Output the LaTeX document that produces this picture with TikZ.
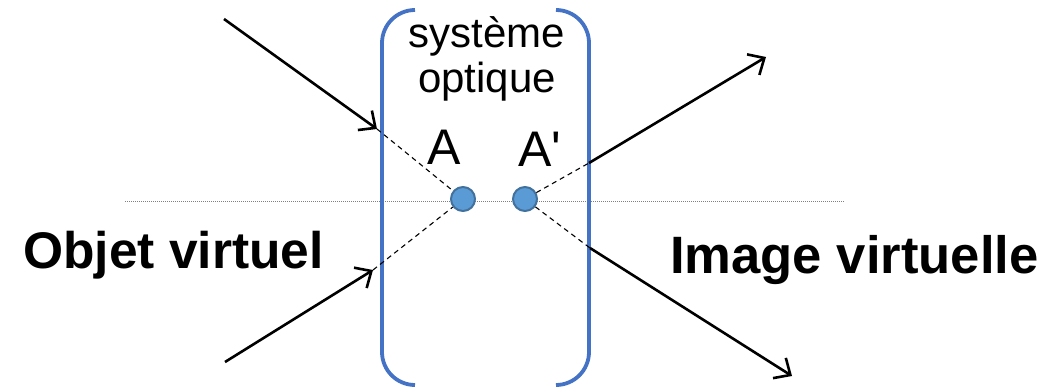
\documentclass[tikz,border=0pt]{standalone}
\usepackage{fontspec}
\setmainfont{Liberation Sans}
% same family without TeX ligature mapping, so that ' stays straight
\newfontfamily\plainsans{Liberation Sans}
\usetikzlibrary{arrows.meta}
\definecolor{bracketblue}{HTML}{4472C4}
\definecolor{dotfill}{HTML}{5B9BD5}
\definecolor{dotline}{HTML}{41719C}
\begin{document}
\begin{tikzpicture}[x=1pt,y=-1pt,
  ray/.style={line width=2.6pt,-{Straight Barb[length=13pt,width=24pt,line width=2.6pt]}},
  virt/.style={line width=1.1pt,dash pattern=on 5pt off 4pt},
  pt/.style={circle,fill=dotfill,draw=dotline,line width=2pt,minimum size=24pt,inner sep=0pt},
  lbl/.style={inner sep=0pt,anchor=base west},
  bracket/.style={line width=3.8pt,bracketblue,rounded corners=33pt}]
\useasboundingbox (0,0) rectangle (1058,388);
% optical axis
\draw[line width=0.8pt,gray,dash pattern=on 1pt off 1pt] (125,201) -- (845,201);
% brackets of the optical system
\draw[bracket] (415,10) -- (382,10) -- (382,385) -- (415,385);
\draw[bracket] (556,10) -- (589,10) -- (589,385) -- (556,385);
% points
\node[pt] (A) at (463,199) {};
\node[pt] (Ap) at (525,199) {};
% incident rays
\coordinate (s1) at (224,19);
\coordinate (h1) at (377,129);
\coordinate (s2) at (225,362);
\coordinate (h2) at (373,270);
\draw[ray] (s1) -- (h1);
\draw[ray] (s2) -- (h2);
\draw[virt] (h1) -- (A);
\draw[virt] (h2) -- (A);
% emergent rays
\coordinate (e1) at (589,163);
\coordinate (t1) at (766,57);
\coordinate (e2) at (590,248);
\coordinate (t2) at (792,376);
\draw[virt] (Ap) -- (e1);
\draw[virt] (Ap) -- (e2);
\draw[ray] (e1) -- (t1);
\draw[ray] (e2) -- (t2);
% labels
\node[lbl,font=\fontsize{42}{45}\selectfont,align=center,anchor=north] (sys) at (487,16) {système\\optique};
\node[lbl,font=\fontsize{50}{55}\selectfont] (la) at (427,164) {A};
\node[lbl,font=\plainsans\fontsize{50}{55}\selectfont] (lap) at (518,166) {A'};
\node[lbl,font=\fontsize{51.5}{55}\selectfont\bfseries] (obj) at (23,268) {Objet virtuel};
\node[lbl,font=\fontsize{52.6}{55}\selectfont\bfseries] (img) at (670,273) {Image virtuelle};
\end{tikzpicture}
\end{document}
